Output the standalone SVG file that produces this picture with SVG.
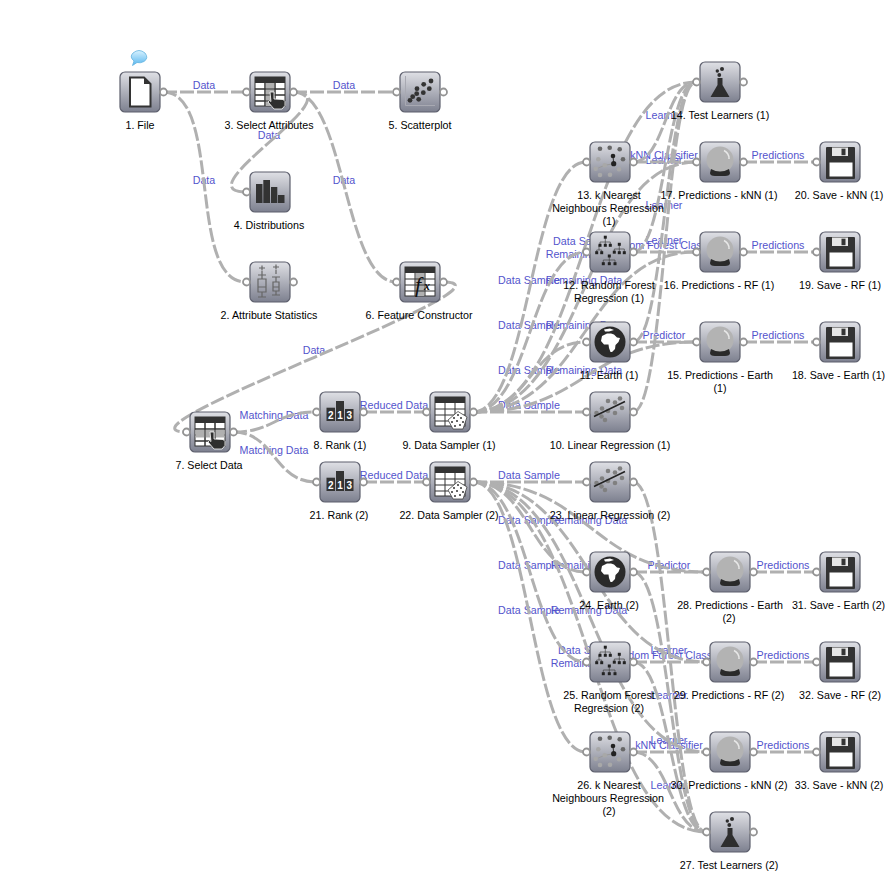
<svg xmlns="http://www.w3.org/2000/svg" xmlns:xlink="http://www.w3.org/1999/xlink" width="885" height="873" viewBox="0 0 885 873">
<style>
text{font-family:"Liberation Sans",Arial,sans-serif;font-size:10.7px}
.t{fill:#000;text-anchor:middle}
.l{fill:#5353cc;text-anchor:middle}
#links path{fill:none;stroke:#b0b0b0;stroke-width:3;stroke-dasharray:14 3}
.box{fill:url(#bg);stroke:#5d5f6d;stroke-width:1.2}
.port{fill:#fff;stroke:#949494;stroke-width:1.8}
.dk{fill:#333}
.cell{fill:#fff;stroke:#333;stroke-width:1}
.hand{fill:#2e2e2e;stroke:#fff;stroke-width:.8}
.gln{stroke:#666;stroke-width:1.2;fill:none}
.dig{fill:#fff;font-size:10px;font-weight:bold;text-anchor:middle}
</style>
<defs>
<linearGradient id="bg" x1="0" y1="0" x2="0" y2="1"><stop offset="0" stop-color="#dfe0e5"/><stop offset="1" stop-color="#7d808f"/></linearGradient>
<linearGradient id="bub" x1="0" y1="0" x2="0" y2="1"><stop offset="0" stop-color="#d8f2ff"/><stop offset="1" stop-color="#58b6ee"/></linearGradient>
<rect id="box" x="0" y="0" width="40" height="40" rx="5" class="box"/>
<g id="table"><rect x="5" y="5" width="30" height="29" class="cell"/><rect x="5" y="5" width="30" height="6" class="dk"/><path d="M5 17H35M5 23H35M5 29H35M15 11V34M25 11V34" fill="none" stroke="#333" stroke-width="1"/></g>
<path id="hand" class="hand" d="M20 20h4v7l9 .5 2 2v4l-3 3.500h-8l-6-7 1.500-1.500 1.500 1z"/>
<g id="i-file"><path d="M10 5.500H24L30.500 12V34.500H10Z" fill="#fff" stroke="#333" stroke-width="2"/><path d="M24 5.500L30.500 12H24Z" fill="#333"/></g>
<g id="i-selattr"><use xlink:href="#table"/><rect x="15.500" y="11" width="9" height="23" fill="#b0b0b0"/><path d="M5 17H35M5 23H35M5 29H35M15 11V34M25 11V34" fill="none" stroke="#333"/><use xlink:href="#hand"/></g>
<g id="i-seldata"><use xlink:href="#table"/><rect x="5.500" y="17.500" width="29" height="8" fill="#b0b0b0"/><path d="M5 17H35M5 29H35M15 11V34M25 11V34" fill="none" stroke="#333"/><use xlink:href="#hand"/></g>
<g id="i-scatter"><path d="M5.500 4V33.500H35" fill="none" stroke="#a8a9b2" stroke-width="1"/><g class="dk"><circle cx="31" cy="9" r="2.400"/><circle cx="23.700" cy="12.300" r="2.400"/><circle cx="17" cy="16.700" r="2.400"/><circle cx="29.300" cy="16.700" r="2.400"/><circle cx="23.300" cy="20.700" r="2.400"/><circle cx="16.700" cy="21.700" r="2.400"/><circle cx="12.700" cy="24.700" r="2.400"/><circle cx="18.700" cy="27.300" r="2.400"/><circle cx="10" cy="28.300" r="2.400"/></g></g>
<g id="i-bars" class="dk"><rect x="6" y="12" width="6.500" height="19"/><rect x="13.300" y="8" width="6.700" height="23"/><rect x="21" y="15" width="6.300" height="16"/><rect x="28" y="23" width="6.500" height="8"/></g>
<g id="i-box"><path class="gln" d="M9 6H15M12 3.500V8.500M12 9V13M8 13H16M12 13V17M8 17H16V30H8ZM8 25H16M12 30V35M8 35H16"/><path class="gln" d="M23 5H29M26 2.500V7.500M26 8V12M22 15H30M26 15V20M23 20H29V29H23ZM23 25H29M26 29V33M22 33H30"/></g>
<g id="i-fx"><rect x="5" y="5" width="30" height="29" class="cell"/><rect x="15.500" y="11" width="9" height="23" fill="#b0b0b0"/><rect x="5" y="5" width="30" height="6" class="dk"/><path d="M5 17H35M5 23H35M5 29H35M15 11V34M25 11V34" fill="none" stroke="#333"/><text x="15" y="30" style="font-family:'Liberation Serif',serif;font-size:22px;font-style:italic;fill:#111">f</text><text x="24" y="28" style="font-family:'Liberation Serif',serif;font-size:12px;font-style:italic;font-weight:bold;fill:#111">x</text></g>
<g id="i-rank"><g class="dk"><rect x="6.500" y="15.700" width="8.500" height="13.300"/><rect x="16" y="9" width="8" height="20"/><rect x="25" y="17" width="8.500" height="12"/></g><text class="dig" x="10.800" y="27">2</text><text class="dig" x="20" y="27">1</text><text class="dig" x="29.300" y="27">3</text></g>
<g id="i-sampler"><use xlink:href="#table"/><path d="M18 28L28 19.500L37 25L33 37H23Z" fill="#fff" stroke="#444" stroke-width=".8"/><g class="dk"><circle cx="28" cy="23" r="1"/><circle cx="24" cy="26" r="1"/><circle cx="31" cy="26" r="1"/><circle cx="27" cy="29" r="1"/><circle cx="22" cy="30" r="1"/><circle cx="33" cy="30" r="1"/><circle cx="30" cy="33" r="1"/><circle cx="25" cy="34" r="1"/></g></g>
<g id="i-lin"><g fill="#808080"><circle cx="6.500" cy="21" r="2.300"/><circle cx="11.500" cy="24.500" r="2.300"/><circle cx="12" cy="16.500" r="2.300"/><circle cx="15" cy="28" r="2.300"/><circle cx="18" cy="19" r="2.300"/><circle cx="18" cy="9" r="2.300"/><circle cx="25" cy="10.500" r="2.300"/><circle cx="25" cy="21" r="2.300"/><circle cx="30" cy="6.500" r="2.300"/><circle cx="32" cy="16" r="2.300"/></g><path d="M4 24.500L35 9.500" stroke="#222" stroke-width="1.500"/></g>
<g id="i-earth"><circle cx="20" cy="20" r="15.500" fill="#2a2a2a"/><path d="M12 14L17 11.500H21L24 12.500L27 15.500L30 16L28.500 20L25.500 23L25 27L22 30H20.500L19 26L18.500 22.500L14 22.500L11 19Z" fill="#fff"/><path d="M14 7.500L20 6.500L24 8L19 9.500L15 9.500Z" fill="#fff"/></g>
<g id="i-forest"><path d="M15.300 5.700V10M10 13.300V10H20.300V13.300M15.300 10V13.300M29.300 12.300V17M24.300 20V17H34.300V20M29.300 17V20M6.700 20.700V18H11.700V20.700M9 13V18M19.300 24V28M13.300 31.700V28H25V31.700M19.300 28V31.700" fill="none" stroke="#444" stroke-width=".7"/><g fill="#222"><rect x="13.800" y="3.700" width="3" height="3"/><rect x="8.500" y="11.800" width="3" height="3"/><rect x="13.800" y="11.800" width="3" height="3"/><rect x="18.800" y="11.800" width="3" height="3"/><rect x="27.800" y="10.800" width="3" height="3"/><rect x="22.800" y="18.700" width="3" height="3"/><rect x="27.800" y="19.200" width="3" height="3"/><rect x="32.800" y="19.200" width="3" height="3"/><rect x="5.200" y="19.200" width="3" height="3"/><rect x="10.200" y="19.200" width="3" height="3"/><rect x="17.800" y="22.500" width="3" height="3"/><rect x="11.800" y="30.200" width="3" height="3"/><rect x="17.800" y="30.200" width="3" height="3"/><rect x="23.500" y="30.200" width="3" height="3"/></g></g>
<g id="i-knn"><path d="M23.700 21.700L14.700 23.300L8.300 26" fill="none" stroke="#9a9a9a" stroke-width="1"/><path d="M23.700 21.700L23 14" stroke="#333" stroke-width="1"/><g fill="#666"><circle cx="10" cy="6.700" r="2.300"/><circle cx="19.700" cy="5.700" r="2.300"/><circle cx="29.700" cy="7.300" r="2.300"/><circle cx="33" cy="17.300" r="2.300"/></g><g fill="#a8a8a8"><circle cx="8.300" cy="17.300" r="2.300"/><circle cx="5.700" cy="26.700" r="2.300"/><circle cx="14.700" cy="23.300" r="2.300"/><circle cx="29" cy="27.300" r="2.300"/><circle cx="20" cy="32.700" r="2.300"/><circle cx="10" cy="33" r="2.300"/></g><g fill="#222"><circle cx="23.700" cy="21.700" r="2.600"/><circle cx="23" cy="14" r="2.300"/></g></g>
<g id="i-flask" fill="#2e2e2e"><circle cx="22" cy="7" r="2"/><circle cx="17.300" cy="9" r="1.700"/><circle cx="19.300" cy="13" r="1.900"/><path d="M17.500 16H22.500V23L29.500 35H10.500L17.500 23Z"/></g>
<g id="i-ball"><circle cx="20" cy="18" r="13.500" fill="#b3b3b3"/><path d="M24 8.500A9 9 0 0 1 29 17" fill="none" stroke="#e8e8e8" stroke-width="1.500"/><path d="M11 27Q20 32 29 27L30 31Q30 34 25 34H15Q10 34 10 31Z" fill="#2a2a2a"/></g>
<g id="i-save"><rect x="6" y="5" width="29" height="32" rx="1" fill="#333"/><rect x="12" y="5.500" width="16" height="8.500" fill="#e6e6e6"/><rect x="21.500" y="6.700" width="4" height="6.500" fill="#333"/><rect x="9.500" y="20.500" width="23" height="14" fill="#fff"/></g>
</defs>
<rect width="885" height="873" fill="#fff"/>
<g id="link-labels">
<text class="l" x="204" y="89">Data</text>
<text class="l" x="204" y="184">Data</text>
<text class="l" x="344" y="89">Data</text>
<text class="l" x="269" y="139">Data</text>
<text class="l" x="344" y="184">Data</text>
<text class="l" x="314" y="354">Data</text>
<text class="l" x="274" y="419">Matching Data</text>
<text class="l" x="274" y="454">Matching Data</text>
<text class="l" x="394" y="409">Reduced Data</text>
<text class="l" x="394" y="479">Reduced Data</text>
<text class="l" x="529" y="409">Data Sample</text>
<text class="l" x="529" y="374">Data Sample</text>
<text class="l" x="584" y="374">Remaining Data</text>
<text class="l" x="529" y="329">Data Sample</text>
<text class="l" x="584" y="329">Remaining Data</text>
<text class="l" x="529" y="284">Data Sample</text>
<text class="l" x="584" y="284">Remaining Data</text>
<text class="l" x="584" y="245">Data Sample</text>
<text class="l" x="584" y="258">Remaining Data</text>
<text class="l" x="664" y="119">Learner</text>
<text class="l" x="664" y="164">Learner</text>
<text class="l" x="664" y="209">Learner</text>
<text class="l" x="664" y="244">Learner</text>
<text class="l" x="664" y="159">kNN Classifier</text>
<text class="l" x="664" y="249">Random Forest Classifier</text>
<text class="l" x="664" y="339">Predictor</text>
<text class="l" x="778" y="159">Predictions</text>
<text class="l" x="778" y="249">Predictions</text>
<text class="l" x="778" y="339">Predictions</text>
<text class="l" x="529" y="479">Data Sample</text>
<text class="l" x="529" y="524">Data Sample</text>
<text class="l" x="589" y="524">Remaining Data</text>
<text class="l" x="529" y="569">Data Sample</text>
<text class="l" x="589" y="569">Remaining Data</text>
<text class="l" x="529" y="614">Data Sample</text>
<text class="l" x="589" y="614">Remaining Data</text>
<text class="l" x="589" y="654">Data Sample</text>
<text class="l" x="589" y="667">Remaining Data</text>
<text class="l" x="669" y="654">Learner</text>
<text class="l" x="669" y="699">Learner</text>
<text class="l" x="669" y="744">Learner</text>
<text class="l" x="669" y="789">Learner</text>
<text class="l" x="669" y="659">Random Forest Classifier</text>
<text class="l" x="669" y="749">kNN Classifier</text>
<text class="l" x="669" y="569">Predictor</text>
<text class="l" x="783" y="569">Predictions</text>
<text class="l" x="783" y="659">Predictions</text>
<text class="l" x="783" y="749">Predictions</text>
</g>
<g id="links">
<path d="M163 92H246"/>
<path d="M163 92C223 92 186 282 246 282"/>
<path d="M293 92H396"/>
<path d="M293 92C358 92 181 192 246 192"/>
<path d="M293 92C345 92 344 282 396 282"/>
<path d="M443 282C533 282 97 432 187 432"/>
<path d="M233 432C275 432 274 412 316 412"/>
<path d="M233 432C275 432 274 482 316 482"/>
<path d="M363 412H426"/>
<path d="M363 482H426"/>
<path d="M473 412H586"/>
<path d="M473 412C530 412 530 342 586 342"/>
<path d="M473 412C585 412 585 342 696 342"/>
<path d="M473 412C530 412 530 252 586 252"/>
<path d="M473 412C585 412 585 252 696 252"/>
<path d="M473 412C530 412 530 162 586 162"/>
<path d="M473 412C585 412 585 162 696 162"/>
<path d="M473 412C585 412 585 82 696 82"/>
<path d="M633 162C665 162 665 82 696 82"/>
<path d="M633 252C665 252 665 82 696 82"/>
<path d="M633 342C665 342 665 82 696 82"/>
<path d="M633 412C665 412 665 82 696 82"/>
<path d="M633 162H696"/>
<path d="M633 252H696"/>
<path d="M633 342H696"/>
<path d="M743 162H816"/>
<path d="M743 252H816"/>
<path d="M743 342H816"/>
<path d="M473 482H586"/>
<path d="M473 482C530 482 530 572 586 572"/>
<path d="M473 482C590 482 590 572 706 572"/>
<path d="M473 482C530 482 530 662 586 662"/>
<path d="M473 482C590 482 590 662 706 662"/>
<path d="M473 482C530 482 530 752 586 752"/>
<path d="M473 482C590 482 590 752 706 752"/>
<path d="M473 482C590 482 590 832 706 832"/>
<path d="M633 482C670 482 670 832 706 832"/>
<path d="M633 572C670 572 670 832 706 832"/>
<path d="M633 662C670 662 670 832 706 832"/>
<path d="M633 752C670 752 670 832 706 832"/>
<path d="M633 572H706"/>
<path d="M633 662H706"/>
<path d="M633 752H706"/>
<path d="M753 572H816"/>
<path d="M753 662H816"/>
<path d="M753 752H816"/>
</g>
<g id="nodes">
<g id="n1" transform="translate(120,72)"><use xlink:href="#box"/><use xlink:href="#i-file"/><circle class="port" cx="43.500" cy="20" r="3.500"/><text class="t" x="20" y="57">1. File</text></g>
<path id="comment" d="M133 53Q139 48 145 53Q149 58 144 61.500Q140 63.500 137 62.500L132.500 65.500L134 61Q129 57 133 53Z" fill="url(#bub)" stroke="#63b4e0" stroke-width=".8"/>
<g id="n3" transform="translate(250,72)"><use xlink:href="#box"/><use xlink:href="#i-selattr"/><circle class="port" cx="-3.500" cy="20" r="3.500"/><circle class="port" cx="43.500" cy="20" r="3.500"/><text class="t" x="19" y="57">3. Select Attributes</text></g>
<g id="n5" transform="translate(400,72)"><use xlink:href="#box"/><use xlink:href="#i-scatter"/><circle class="port" cx="-3.500" cy="20" r="3.500"/><circle class="port" cx="43.500" cy="20" r="3.500"/><text class="t" x="20" y="57">5. Scatterplot</text></g>
<g id="n4" transform="translate(250,172)"><use xlink:href="#box"/><use xlink:href="#i-bars"/><circle class="port" cx="-3.500" cy="20" r="3.500"/><text class="t" x="19" y="57">4. Distributions</text></g>
<g id="n2" transform="translate(250,262)"><use xlink:href="#box"/><use xlink:href="#i-box"/><circle class="port" cx="-3.500" cy="20" r="3.500"/><circle class="port" cx="43.500" cy="20" r="3.500"/><text class="t" x="19" y="57">2. Attribute Statistics</text></g>
<g id="n6" transform="translate(400,262)"><use xlink:href="#box"/><use xlink:href="#i-fx"/><circle class="port" cx="-3.500" cy="20" r="3.500"/><circle class="port" cx="43.500" cy="20" r="3.500"/><text class="t" x="19" y="57">6. Feature Constructor</text></g>
<g id="n7" transform="translate(190,412)"><use xlink:href="#box"/><use xlink:href="#i-seldata"/><circle class="port" cx="-3.500" cy="20" r="3.500"/><circle class="port" cx="43.500" cy="20" r="3.500"/><text class="t" x="19" y="57">7. Select Data</text></g>
<g id="n8" transform="translate(320,392)"><use xlink:href="#box"/><use xlink:href="#i-rank"/><circle class="port" cx="-3.500" cy="20" r="3.500"/><circle class="port" cx="43.500" cy="20" r="3.500"/><text class="t" x="20" y="57">8. Rank (1)</text></g>
<g id="n21" transform="translate(320,462)"><use xlink:href="#box"/><use xlink:href="#i-rank"/><circle class="port" cx="-3.500" cy="20" r="3.500"/><circle class="port" cx="43.500" cy="20" r="3.500"/><text class="t" x="19" y="57">21. Rank (2)</text></g>
<g id="n9" transform="translate(430,392)"><use xlink:href="#box"/><use xlink:href="#i-sampler"/><circle class="port" cx="-3.500" cy="20" r="3.500"/><circle class="port" cx="43.500" cy="20" r="3.500"/><text class="t" x="19" y="57">9. Data Sampler (1)</text></g>
<g id="n22" transform="translate(430,462)"><use xlink:href="#box"/><use xlink:href="#i-sampler"/><circle class="port" cx="-3.500" cy="20" r="3.500"/><circle class="port" cx="43.500" cy="20" r="3.500"/><text class="t" x="19" y="57">22. Data Sampler (2)</text></g>
<g id="n10" transform="translate(590,392)"><use xlink:href="#box"/><use xlink:href="#i-lin"/><circle class="port" cx="-3.500" cy="20" r="3.500"/><circle class="port" cx="43.500" cy="20" r="3.500"/><text class="t" x="20" y="57">10. Linear Regression (1)</text></g>
<g id="n11" transform="translate(590,322)"><use xlink:href="#box"/><use xlink:href="#i-earth"/><circle class="port" cx="-3.500" cy="20" r="3.500"/><circle class="port" cx="43.500" cy="20" r="3.500"/><text class="t" x="19" y="57">11. Earth (1)</text></g>
<g id="n12" transform="translate(590,232)"><use xlink:href="#box"/><use xlink:href="#i-forest"/><circle class="port" cx="-3.500" cy="20" r="3.500"/><circle class="port" cx="43.500" cy="20" r="3.500"/><text class="t" x="19" y="57">12. Random Forest</text><text class="t" x="19" y="70">Regression (1)</text></g>
<g id="n13" transform="translate(590,142)"><use xlink:href="#box"/><use xlink:href="#i-knn"/><circle class="port" cx="-3.500" cy="20" r="3.500"/><circle class="port" cx="43.500" cy="20" r="3.500"/><text class="t" x="19" y="57">13. k Nearest</text><text class="t" x="18" y="70">Neighbours Regression</text><text class="t" x="19" y="83">(1)</text></g>
<g id="n14" transform="translate(700,62)"><use xlink:href="#box"/><use xlink:href="#i-flask"/><circle class="port" cx="-3.500" cy="20" r="3.500"/><circle class="port" cx="43.500" cy="20" r="3.500"/><text class="t" x="20" y="57">14. Test Learners (1)</text></g>
<g id="n17" transform="translate(700,142)"><use xlink:href="#box"/><use xlink:href="#i-ball"/><circle class="port" cx="-3.500" cy="20" r="3.500"/><circle class="port" cx="43.500" cy="20" r="3.500"/><text class="t" x="19" y="57">17. Predictions - kNN (1)</text></g>
<g id="n16" transform="translate(700,232)"><use xlink:href="#box"/><use xlink:href="#i-ball"/><circle class="port" cx="-3.500" cy="20" r="3.500"/><circle class="port" cx="43.500" cy="20" r="3.500"/><text class="t" x="19" y="57">16. Predictions - RF (1)</text></g>
<g id="n15" transform="translate(700,322)"><use xlink:href="#box"/><use xlink:href="#i-ball"/><circle class="port" cx="-3.500" cy="20" r="3.500"/><circle class="port" cx="43.500" cy="20" r="3.500"/><text class="t" x="20" y="57">15. Predictions - Earth</text><text class="t" x="20" y="70">(1)</text></g>
<g id="n20" transform="translate(820,142)"><use xlink:href="#box"/><use xlink:href="#i-save"/><circle class="port" cx="-3.500" cy="20" r="3.500"/><text class="t" x="19" y="57">20. Save - kNN (1)</text></g>
<g id="n19" transform="translate(820,232)"><use xlink:href="#box"/><use xlink:href="#i-save"/><circle class="port" cx="-3.500" cy="20" r="3.500"/><text class="t" x="20" y="57">19. Save - RF (1)</text></g>
<g id="n18" transform="translate(820,322)"><use xlink:href="#box"/><use xlink:href="#i-save"/><circle class="port" cx="-3.500" cy="20" r="3.500"/><text class="t" x="18.500" y="57">18. Save - Earth (1)</text></g>
<g id="n23" transform="translate(590,462)"><use xlink:href="#box"/><use xlink:href="#i-lin"/><circle class="port" cx="-3.500" cy="20" r="3.500"/><circle class="port" cx="43.500" cy="20" r="3.500"/><text class="t" x="20" y="57">23. Linear Regression (2)</text></g>
<g id="n24" transform="translate(590,552)"><use xlink:href="#box"/><use xlink:href="#i-earth"/><circle class="port" cx="-3.500" cy="20" r="3.500"/><circle class="port" cx="43.500" cy="20" r="3.500"/><text class="t" x="19" y="57">24. Earth (2)</text></g>
<g id="n25" transform="translate(590,642)"><use xlink:href="#box"/><use xlink:href="#i-forest"/><circle class="port" cx="-3.500" cy="20" r="3.500"/><circle class="port" cx="43.500" cy="20" r="3.500"/><text class="t" x="19" y="57">25. Random Forest</text><text class="t" x="19" y="70">Regression (2)</text></g>
<g id="n26" transform="translate(590,732)"><use xlink:href="#box"/><use xlink:href="#i-knn"/><circle class="port" cx="-3.500" cy="20" r="3.500"/><circle class="port" cx="43.500" cy="20" r="3.500"/><text class="t" x="19" y="57">26. k Nearest</text><text class="t" x="18" y="70">Neighbours Regression</text><text class="t" x="19" y="83">(2)</text></g>
<g id="n27" transform="translate(710,812)"><use xlink:href="#box"/><use xlink:href="#i-flask"/><circle class="port" cx="-3.500" cy="20" r="3.500"/><circle class="port" cx="43.500" cy="20" r="3.500"/><text class="t" x="19" y="57">27. Test Learners (2)</text></g>
<g id="n28" transform="translate(710,552)"><use xlink:href="#box"/><use xlink:href="#i-ball"/><circle class="port" cx="-3.500" cy="20" r="3.500"/><circle class="port" cx="43.500" cy="20" r="3.500"/><text class="t" x="20" y="57">28. Predictions - Earth</text><text class="t" x="19" y="70">(2)</text></g>
<g id="n29" transform="translate(710,642)"><use xlink:href="#box"/><use xlink:href="#i-ball"/><circle class="port" cx="-3.500" cy="20" r="3.500"/><circle class="port" cx="43.500" cy="20" r="3.500"/><text class="t" x="19" y="57">29. Predictions - RF (2)</text></g>
<g id="n30" transform="translate(710,732)"><use xlink:href="#box"/><use xlink:href="#i-ball"/><circle class="port" cx="-3.500" cy="20" r="3.500"/><circle class="port" cx="43.500" cy="20" r="3.500"/><text class="t" x="19" y="57">30. Predictions - kNN (2)</text></g>
<g id="n31" transform="translate(820,552)"><use xlink:href="#box"/><use xlink:href="#i-save"/><circle class="port" cx="-3.500" cy="20" r="3.500"/><text class="t" x="18.500" y="57">31. Save - Earth (2)</text></g>
<g id="n32" transform="translate(820,642)"><use xlink:href="#box"/><use xlink:href="#i-save"/><circle class="port" cx="-3.500" cy="20" r="3.500"/><text class="t" x="20" y="57">32. Save - RF (2)</text></g>
<g id="n33" transform="translate(820,732)"><use xlink:href="#box"/><use xlink:href="#i-save"/><circle class="port" cx="-3.500" cy="20" r="3.500"/><text class="t" x="19" y="57">33. Save - kNN (2)</text></g>
</g>
</svg>
